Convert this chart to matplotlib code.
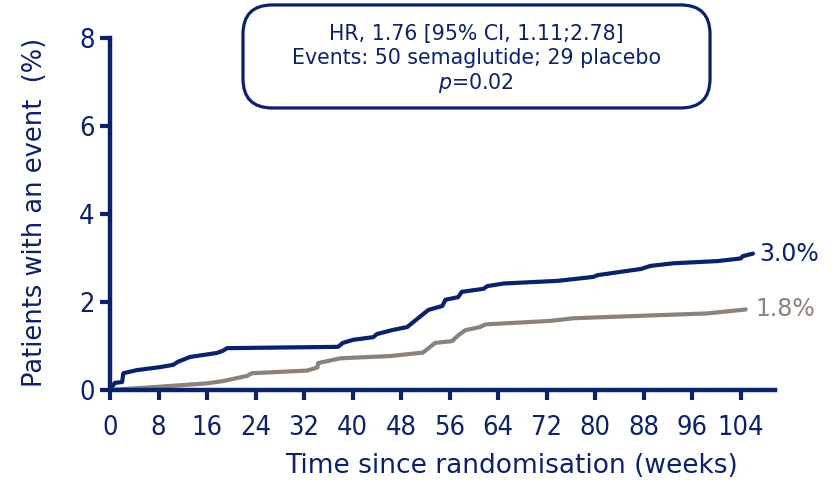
import numpy as np
import matplotlib
matplotlib.use("Agg")
import matplotlib.pyplot as plt
from matplotlib.patches import FancyBboxPatch

# semaglutide curve (weeks, % with event)
sema_wk = [0, 0.8, 2, 2.2, 4.4, 8.3, 10.4, 11.2, 13.2, 17.6, 18.6, 19.3, 37.6, 38.4, 40.1,
           43.4, 44, 46.5, 49, 49.8, 52.5, 54.8, 55.3, 57.4, 58, 61.6, 62.2, 64.9, 73.8,
           79.7, 80.4, 87.5, 89.1, 92.9, 100.2, 104, 104.3, 106]
sema_pct = [0, 0.16, 0.18, 0.38, 0.45, 0.52, 0.57, 0.64, 0.75, 0.84, 0.89, 0.95, 0.98, 1.07, 1.14,
            1.2, 1.27, 1.36, 1.43, 1.52, 1.82, 1.91, 2.05, 2.11, 2.23, 2.3, 2.36, 2.42, 2.48,
            2.57, 2.61, 2.75, 2.82, 2.88, 2.93, 2.99, 3.04, 3.1]

# placebo curve
plac_wk = [0, 7.8, 16, 18.6, 22.6, 23.4, 32.5, 34.2, 34.3, 38, 46.2, 51.6, 52.8, 53.6,
           56.4, 57.4, 58.6, 61, 61.9, 72.6, 76.4, 98.5, 104.8]
plac_pct = [0, 0.07, 0.15, 0.2, 0.32, 0.38, 0.44, 0.51, 0.61, 0.72, 0.77, 0.85, 0.98, 1.07,
            1.11, 1.24, 1.36, 1.43, 1.49, 1.57, 1.63, 1.74, 1.83]

end_labels = ['3.0%', '1.8%']
xticks = list(range(0, 105, 8))
yticks = [0, 2, 4, 6, 8]

navy = '#0b216a'
grey = '#8c827a'

fig = plt.figure(figsize=(8.37, 4.82), dpi=100)
ax = fig.add_axes([0.1314, 0.191, 0.795, 0.730])

ax.plot(sema_wk, sema_pct, color=navy, lw=3, clip_on=False, solid_capstyle='round')
ax.plot(plac_wk, plac_pct, color=grey, lw=3, clip_on=False, solid_capstyle='round')

ax.text(sema_wk[-1] + 1.0, sema_pct[-1], end_labels[0], color=navy, fontsize=17,
        va='center', ha='left')
ax.text(plac_wk[-1] + 1.6, plac_pct[-1], end_labels[1], color=grey, fontsize=17,
        va='center', ha='left')

ax.set_xlim(0, 109.7)
ax.set_ylim(0, 8)
ax.set_xticks(xticks)
ax.set_yticks(yticks)
for s in ['top', 'right']:
    ax.spines[s].set_visible(False)
for s in ['left', 'bottom']:
    ax.spines[s].set_color(navy)
    ax.spines[s].set_linewidth(3.2)
ax.tick_params(colors=navy, width=3, length=7, labelsize=19.5)
for lab in ax.get_xticklabels() + ax.get_yticklabels():
    lab.set_fontstretch('condensed')
ax.tick_params(axis='x', pad=11)
ax.tick_params(axis='y', pad=4)

ax.set_xlabel('Time since randomisation (weeks)', color=navy, fontsize=19)
ax.xaxis.set_label_coords(0.603, -0.178)
ax.set_ylabel('Patients with an event  (%)', color=navy, fontsize=18.5)
ax.yaxis.set_label_coords(-0.093, 0.504)

# annotation box
box = FancyBboxPatch((0.2903, 0.776), 0.558, 0.2137, transform=fig.transFigure,
                     boxstyle='round,pad=0,rounding_size=0.035', fc='white', ec=navy,
                     lw=2.3, mutation_aspect=837 / 482)
fig.patches.append(box)
fig.text(0.569, 0.876, 'HR, 1.76 [95% CI, 1.11;2.78]\nEvents: 50 semaglutide; 29 placebo\n$p$=0.02',
         color=navy, fontsize=14.8, ha='center', va='center', linespacing=1.2)

fig.savefig('out.png', dpi=100)
